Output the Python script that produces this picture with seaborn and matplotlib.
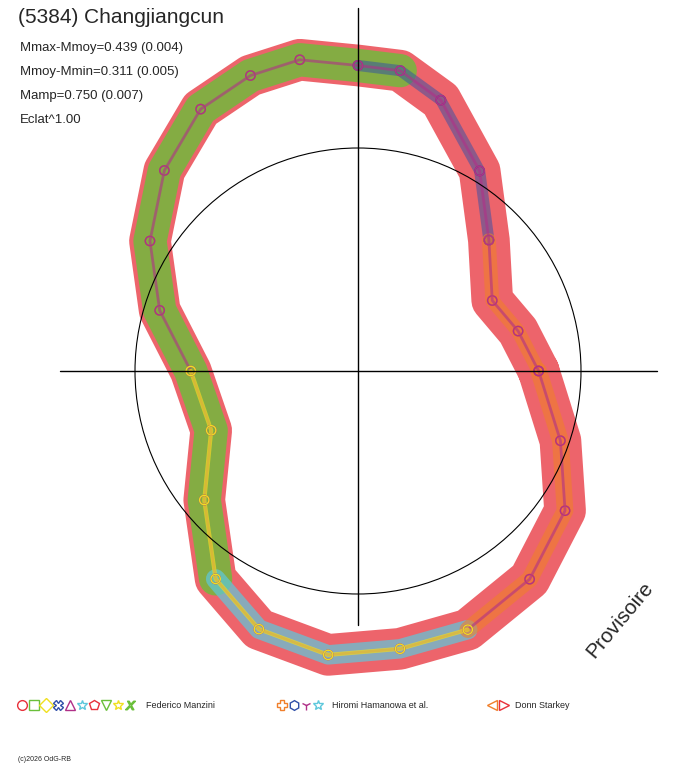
import numpy as np
import pandas as pd
import matplotlib
matplotlib.use("Agg")
import matplotlib.pyplot as plt
import seaborn as sns

# Courbe polaire (angle en degres, rayon relatif au cercle de reference = 1)
angles = [0, 14, 27.7, 45, 58.7, 73, 82, 90, 100.6, 110, 121, 134, 148, 163, 180,
          202, 220, 235.6, 249, 264, 278.6, 293, 309.5, 326, 341, 360]
rayons = [0.81, 0.74, 0.68, 0.83, 1.05, 1.27, 1.36, 1.37, 1.42, 1.41, 1.37, 1.25,
          1.10, 0.93, 0.75, 0.71, 0.90, 1.13, 1.24, 1.28, 1.26, 1.26, 1.21, 1.12,
          0.96, 0.81]

# Segments par observateur: (debut, fin, couleur, epaisseur, alpha)
obs_segments = {
    "Manzini rouge": (0, 26, "#e8303a", 30, 0.75),
    "Manzini vert": (6, 18, "#6abf3a", 24, 0.8),
    "Manzini bleu": (3, 8, "#3050a8", 8, 0.5),
    "Hamanowa cyan": (17, 22, "#5ec8dc", 14, 0.7),
    "Hamanowa orange": (21, 26, "#f07f2a", 12, 0.6),
    "Hamanowa orange 2": (0, 4, "#f07f2a", 10, 0.6),
    "Manzini violet": (0, 26, "#b03088", 2, 0.6),
    "Manzini jaune": (14, 22, "#f0e020", 3, 0.7),
}

stats = ["Mmax-Mmoy=0.439 (0.004)", "Mmoy-Mmin=0.311 (0.005)",
         "Mamp=0.750 (0.007)", "Eclat^1.00"]

sns.set_style("white")
plt.rcParams["font.family"] = ["Liberation Sans", "DejaVu Sans"]

df = pd.DataFrame({"a": np.radians(angles), "r": rayons})
df["x"] = df["r"] * np.cos(df["a"])
df["y"] = df["r"] * np.sin(df["a"])

W, H, R, cx, cy = 688, 768, 223.0, 358, 371
fig = plt.figure(figsize=(W / 100, H / 100), dpi=100)
ax = fig.add_axes([0, 0, 1, 1])
ax.set_xlim(-cx / R, (W - cx) / R)
ax.set_ylim(-(H - cy) / R, cy / R)
ax.set_aspect("equal")
ax.axis("off")

for nom, (i0, i1, col, lw, al) in obs_segments.items():
    seg = df.iloc[i0:i1]
    sns.lineplot(data=seg, x="x", y="y", sort=False, estimator=None, ax=ax,
                 color=col, lw=lw, alpha=al, legend=False,
                 solid_joinstyle="round", solid_capstyle="round")
    ax.scatter(seg["x"], seg["y"], s=45, facecolors="none", edgecolors=col,
               marker="o", lw=1, zorder=3)

# axes et cercle
ax.plot([(60 - cx) / R, (657 - cx) / R], [0, 0], color="black", lw=1, zorder=4)
ax.plot([0, 0], [(cy - 8) / R, (cy - 625) / R], color="black", lw=1, zorder=4)
ax.add_patch(plt.Circle((0, 0), 1.0, fill=False, color="black", lw=0.8, zorder=4))

fig.text(18 / W, 1 - 8 / H, "(5384) Changjiangcun", fontsize=15, va="top")
for i, s in enumerate(stats):
    fig.text(20 / W, 1 - (42 + 24 * i) / H, s, fontsize=9.5, va="top")

fig.text(620 / W, 1 - 620 / H, "Provisoire", fontsize=15, rotation=50,
         ha="center", va="center")

# legende
leg_y = 1 - 705 / H
marks = [("o", "#e8303a"), ("s", "#6abf3a"), ("D", "#f0e020"), ("X", "#3050a8"),
         ("^", "#b03088"), ("*", "#5ec8dc"), ("p", "#e8303a"), ("v", "#6abf3a"),
         ("*", "#f0e020"), ("$x$", "#6abf3a")]
for i, (m, c) in enumerate(marks):
    fig.lines.append(plt.Line2D([(22 + 12 * i) / W], [leg_y], marker=m, ms=7,
                                mfc="none", mec=c, transform=fig.transFigure))
fig.text(146 / W, leg_y, "Federico Manzini", fontsize=6.5, va="center")
for i, (m, c) in enumerate([("P", "#f07f2a"), ("h", "#3050a8"),
                            ("1", "#b03088"), ("*", "#5ec8dc")]):
    fig.lines.append(plt.Line2D([(282 + 12 * i) / W], [leg_y], marker=m, ms=7,
                                mfc="none", mec=c, transform=fig.transFigure))
fig.text(332 / W, leg_y, "Hiromi Hamanowa et al.", fontsize=6.5, va="center")
for i, (m, c) in enumerate([("<", "#f07f2a"), (">", "#e8303a")]):
    fig.lines.append(plt.Line2D([(492 + 12 * i) / W], [leg_y], marker=m, ms=7,
                                mfc="none", mec=c, transform=fig.transFigure))
fig.text(515 / W, leg_y, "Donn Starkey", fontsize=6.5, va="center")
fig.text(18 / W, 1 - 763 / H, "(c)2026 OdG-RB", fontsize=5, va="bottom")

fig.savefig("out.png", dpi=100)
